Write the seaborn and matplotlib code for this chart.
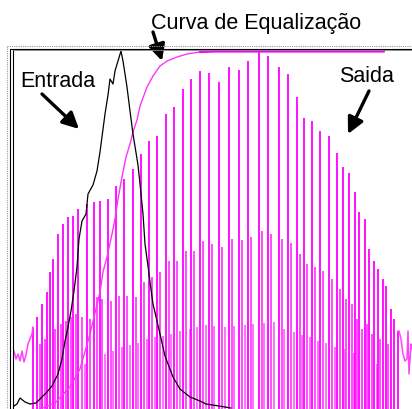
import matplotlib
matplotlib.use("Agg")
import matplotlib.pyplot as plt
from matplotlib.lines import Line2D
import pandas as pd
import seaborn as sns

sns.set_style("white")
plt.rcParams["font.family"] = ["Liberation Sans", "DejaVu Sans"]

MAGENTA = "#ff00ff"
W, H = 412, 410

# Input histogram (Entrada): gray level position, count
entrada_x = [14, 17, 20, 25, 30, 36, 42, 47, 52, 58, 62, 65, 68, 71, 74, 77, 79, 82, 86, 88,
             93, 97, 100, 105, 108, 110, 113, 115, 118, 121, 123, 127, 130, 133, 138, 140,
             143, 145, 148, 150, 153, 157, 160, 165, 173, 180, 190, 200, 206, 219, 231]
entrada_y = [3, 5, 11, 7, 5, 6, 12, 17, 23, 35, 50, 68, 82, 98, 118, 142, 170, 188, 195, 215,
             224, 238, 257, 295, 314, 330, 325, 338, 348, 358, 348, 322, 298, 275, 244, 225,
             195, 165, 143, 127, 105, 88, 75, 53, 32, 20, 12, 8, 5, 3, 1]

# Equalization curve (cumulative)
curva_x = [40, 55, 70, 80, 90, 100, 103, 107, 112, 115, 118, 122, 126, 130, 133, 137, 140,
           147, 153, 160, 167, 177, 187, 200, 215, 384]
curva_y = [0, 6, 22, 40, 75, 117, 137, 152, 175, 190, 210, 232, 252, 265, 277, 289, 303,
           322, 333, 343, 348, 352, 355, 357, 357.5, 357.5]

# Output histogram (Saida): tall spikes
saida_alta_x = [33, 37, 42, 47, 50, 53, 58, 63, 68, 73, 78, 87, 94, 100, 108, 116, 124, 133,
                141, 149, 157, 166, 174, 183, 191, 200, 209, 219, 229, 239, 248, 259, 268,
                279, 288, 297, 304, 312, 320, 329, 337, 343, 349, 355, 359, 365, 369, 374,
                378, 383, 386, 391, 394, 398]
saida_alta_y = [82, 92, 105, 117, 137, 150, 175, 185, 192, 193, 200, 205, 207, 208, 210, 223,
                230, 240, 255, 268, 273, 295, 302, 320, 330, 338, 336, 327, 342, 339, 348,
                360, 353, 342, 335, 312, 291, 288, 278, 273, 256, 242, 236, 217, 197, 190,
                160, 148, 140, 130, 123, 100, 90, 78]

# Output histogram: medium spikes
saida_media_x = [40, 45, 55, 61, 66, 71, 76, 82, 90, 97, 102, 111, 119, 127, 136, 144, 152,
                 160, 169, 177, 186, 194, 203, 212, 222, 232, 242, 251, 262, 271, 282, 291,
                 300, 307, 315, 323, 332, 340, 346, 352, 357, 362, 367, 372, 380, 388]
saida_media_y = [65, 70, 80, 85, 88, 92, 95, 92, 90, 112, 110, 108, 113, 113, 112, 127, 132,
                 137, 148, 148, 158, 158, 168, 165, 162, 170, 169, 172, 178, 175, 170, 166,
                 155, 145, 142, 138, 130, 120, 110, 105, 90, 80, 85, 75, 70, 65]

# Output histogram: short spikes
saida_baixa_x = [85, 105, 113, 122, 130, 138, 147, 155, 163, 171, 180, 190, 197, 206, 214,
                 225, 234, 245, 253, 264, 274, 284, 294, 302, 310, 318, 326, 335, 345, 354,
                 362, 377]
saida_baixa_y = [45, 55, 58, 62, 64, 66, 70, 72, 73, 75, 78, 80, 82, 84, 83, 82, 83, 84, 85,
                 86, 87, 80, 77, 74, 72, 68, 66, 62, 60, 56, 50, 45]

# Output histogram: occupied tails at both ends
saida_esq_x = [14, 16, 18, 20, 22, 24, 26, 28, 30, 32, 33]
saida_esq_y = [58, 50, 55, 48, 58, 47, 54, 65, 70, 75, 82]
saida_dir_x = [398, 399, 401, 403, 405, 407, 408, 409, 411, 412]
saida_dir_y = [78, 78, 70, 55, 48, 50, 78, 35, 65, 60]

fig = plt.figure(figsize=(W / 100, H / 100), dpi=100)
ax = fig.add_axes([12.5 / W, 0, (W - 12.5) / W, 360 / H])
ax.set_xlim(12.5, W)
ax.set_ylim(0, 360)
ax.axis("off")

# Output histogram combs
ax.vlines(saida_baixa_x, 0, saida_baixa_y, colors="#ff66ff", lw=1.3)
ax.vlines(saida_media_x, 0, saida_media_y, colors="#ff40ff", lw=1.3)
ax.vlines(saida_alta_x, 0, saida_alta_y, colors=MAGENTA, lw=1.3)
sns.lineplot(x=saida_esq_x, y=saida_esq_y, ax=ax, color="#ff44ff", lw=1.1, sort=False)
sns.lineplot(x=saida_dir_x, y=saida_dir_y, ax=ax, color="#ff44ff", lw=1.1, sort=False)

# Equalization curve: thin rising part, heavier saturated plateau
df_curva = pd.DataFrame({"x": curva_x, "y": curva_y})
sns.lineplot(data=df_curva.iloc[:-2], x="x", y="y", ax=ax, color="#ff33ff", lw=1.0)
sns.lineplot(data=df_curva.iloc[-3:], x="x", y="y", ax=ax, color=MAGENTA, lw=1.6)

# Input histogram
sns.lineplot(x=entrada_x, y=entrada_y, ax=ax, color="black", lw=0.9)

ax.set_xlabel("")
ax.set_ylabel("")


def fig_line(xs, ys, **kw):
    fig.add_artist(Line2D([x / W for x in xs], [(H - y) / H for y in ys],
                          transform=fig.transFigure, **kw))


# Panel frame (top and left edges, doubled)
fig_line([7, 7], [46.5, H], color="#9a9a9a", lw=0.8, ls=(0, (1, 1)))
fig_line([7, W], [46.5, 46.5], color="#9a9a9a", lw=0.8, ls=(0, (1, 1)))
fig_line([9.5, 9.5], [49.5, H], color="black", lw=0.8)
fig_line([9.5, W], [49.5, 49.5], color="black", lw=0.8)
fig_line([12.5, 12.5], [51, H], color="black", lw=0.8)
fig_line([12.5, W], [51, 51], color="#808080", lw=0.6)

# Labels and arrows
txt = dict(fontsize=15.5, color="black", xycoords="figure pixels", va="baseline")
ax.annotate("Curva de Equalização", xy=(256, H - 29), ha="center", **txt)
ax.annotate("Entrada", xy=(20, H - 87), ha="left", **txt)
ax.annotate("Saida", xy=(339, H - 82), ha="left", **txt)

arrow = dict(arrowstyle="-|>,head_length=0.7,head_width=0.35", lw=2.4, color="black",
             shrinkA=0, shrinkB=0, mutation_scale=14)
for tail, tip in [((153, 33), (162, 62)), ((42, 95), (79, 130)), ((369, 92), (348, 135))]:
    ax.annotate("", xy=(tip[0], H - tip[1]), xytext=(tail[0], H - tail[1]),
                xycoords="figure pixels", textcoords="figure pixels", arrowprops=arrow)

fig.savefig("out.png", dpi=100)
